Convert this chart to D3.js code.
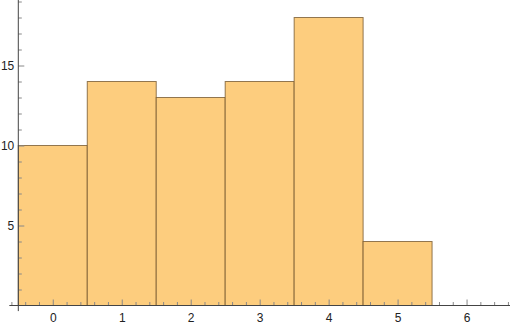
<!DOCTYPE html>
<html>
<head>
<meta charset="utf-8">
<script src="https://cdn.jsdelivr.net/npm/d3@7"></script>
<style>
  body { margin: 0; background: #fff; }
  text { font-family: "Liberation Sans", Arial, sans-serif; }
</style>
</head>
<body>
<div id="chart"></div>
<script>
// bin centres and counts
const binCenters = [0, 1, 2, 3, 4, 5];
const counts = [10, 14, 13, 14, 18, 4];
const xTickLabels = [0, 1, 2, 3, 4, 5, 6];
const yTickLabels = [5, 10, 15];

const width = 512;
const height = 325;

const svg = d3.select('#chart')
    .append('svg')
    .attr('width', width)
    .attr('height', height);

const x = d3.scaleLinear().domain([-0.5, 6.63]).range([18.3, 510]);
const y = d3.scaleLinear().domain([0, 19]).range([305.5, 1.5]);

// bars
svg.append('g')
    .selectAll('rect')
    .data(binCenters)
    .enter()
    .append('rect')
    .attr('x', d => x(d - 0.5))
    .attr('y', (d, i) => y(counts[i]))
    .attr('width', d => x(d + 0.5) - x(d - 0.5))
    .attr('height', (d, i) => y(0) - y(counts[i]))
    .attr('fill', '#fdcd7e')
    .attr('stroke', 'rgb(110,80,40)')
    .attr('stroke-opacity', 0.75)
    .attr('stroke-width', 1);

const axisColor = '#444';
const tickColor = '#888';

// minor x ticks
const xMinor = d3.range(-0.6, 6.61, 0.2).filter(v => Math.abs(v - Math.round(v)) > 0.01);
svg.append('g')
    .attr('transform', `translate(0,${y(0)})`)
    .call(d3.axisBottom(x).tickValues(xMinor).tickSize(-3.5).tickFormat(''))
    .call(g => g.select('.domain').remove())
    .call(g => g.selectAll('line').attr('stroke', tickColor));

// major x ticks
svg.append('g')
    .attr('transform', `translate(0,${y(0)})`)
    .call(d3.axisBottom(x).tickValues(xTickLabels).tickSize(-6).tickPadding(8).tickFormat(d3.format('d')))
    .call(g => g.select('.domain').remove())
    .call(g => g.selectAll('line').attr('stroke', tickColor))
    .call(g => g.selectAll('text').attr('fill', '#222').style('font-size', '12px'));

// minor y ticks
const yMinor = d3.range(1, 20).filter(v => v % 5 !== 0);
svg.append('g')
    .attr('transform', `translate(${x(-0.5)},0)`)
    .call(d3.axisLeft(y).tickValues(yMinor).tickSize(-3.5).tickFormat(''))
    .call(g => g.select('.domain').remove())
    .call(g => g.selectAll('line').attr('stroke', tickColor));

// major y ticks
svg.append('g')
    .attr('transform', `translate(${x(-0.5)},0)`)
    .call(d3.axisLeft(y).tickValues(yTickLabels).tickSize(-6).tickPadding(4).tickFormat(d3.format('d')))
    .call(g => g.select('.domain').remove())
    .call(g => g.selectAll('line').attr('stroke', tickColor))
    .call(g => g.selectAll('text').attr('fill', '#222').style('font-size', '12px'));

// axis lines
svg.append('line')
    .attr('x1', x(-0.63)).attr('x2', x(6.63))
    .attr('y1', y(0)).attr('y2', y(0))
    .attr('stroke', axisColor);
svg.append('line')
    .attr('x1', x(-0.5)).attr('x2', x(-0.5))
    .attr('y1', y(-0.35)).attr('y2', y(19.1))
    .attr('stroke', axisColor);
</script>
</body>
</html>
